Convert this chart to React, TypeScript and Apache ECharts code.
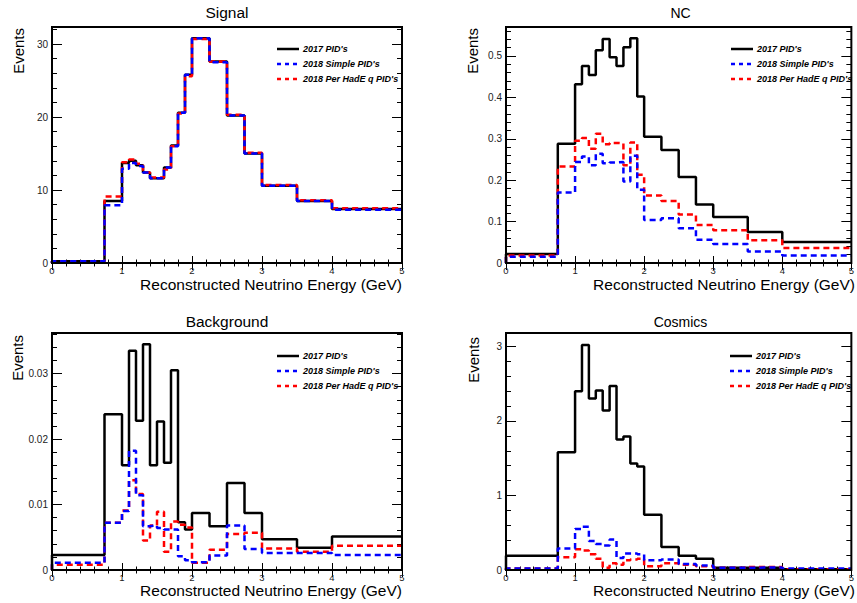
import React, { useEffect, useRef } from "react";
import * as echarts from "echarts";

// ---------- data ----------
const binEdges = [0, 0.75, 1, 1.1, 1.2, 1.3, 1.4, 1.5, 1.6, 1.7, 1.8, 1.9, 2, 2.25, 2.5, 2.75, 3, 3.5, 4, 5];

const seriesNames = ["2017 PID's", "2018 Simple PID's", "2018 Per HadE q PID's"];
const panelTitles = ["Signal", "NC", "Background", "Cosmics"];
const xAxisTitle = "Reconstructed Neutrino Energy (GeV)";
const yAxisTitle = "Events";

const signal2017 = [0.25, 8.5, 13.7, 14.0, 13.4, 12.4, 11.6, 11.6, 13.1, 16.1, 20.6, 25.8, 30.8, 27.6, 20.2, 15.0, 10.6, 8.5, 7.4];
const signalSimple = [0.25, 7.9, 12.9, 13.7, 13.3, 12.4, 11.6, 11.6, 13.1, 16.0, 20.6, 25.8, 30.8, 27.5, 20.2, 15.0, 10.6, 8.5, 7.3];
const signalPerHadE = [0.25, 9.1, 13.8, 14.2, 13.6, 12.4, 11.7, 11.7, 12.8, 16.0, 20.5, 25.6, 30.7, 27.6, 20.3, 15.1, 10.7, 8.6, 7.5];

const nc2017 = [0.022, 0.288, 0.432, 0.476, 0.454, 0.514, 0.541, 0.497, 0.476, 0.521, 0.543, 0.402, 0.305, 0.273, 0.208, 0.141, 0.111, 0.075, 0.051];
const ncSimple = [0.015, 0.17, 0.244, 0.257, 0.236, 0.264, 0.241, 0.243, 0.244, 0.197, 0.259, 0.177, 0.104, 0.108, 0.084, 0.056, 0.046, 0.028, 0.018];
const ncPerHadE = [0.018, 0.233, 0.295, 0.302, 0.276, 0.312, 0.287, 0.29, 0.289, 0.236, 0.291, 0.213, 0.163, 0.15, 0.117, 0.092, 0.079, 0.055, 0.036];

const bg2017 = [0.0023, 0.0238, 0.016, 0.0335, 0.0228, 0.0345, 0.016, 0.0227, 0.0164, 0.0305, 0.0073, 0.0062, 0.0087, 0.0067, 0.0133, 0.0087, 0.0047, 0.0034, 0.0051];
const bgSimple = [0.0011, 0.0072, 0.009, 0.0182, 0.0114, 0.0067, 0.0068, 0.0064, 0.0062, 0.0062, 0.0021, 0.0015, 0.0012, 0.0022, 0.0068, 0.0032, 0.0026, 0.0026, 0.0023];
const bgPerHadE = [0.0008, 0.0072, 0.0091, 0.0137, 0.0116, 0.0045, 0.0068, 0.0089, 0.0028, 0.0074, 0.0069, 0.0065, 0.0011, 0.0031, 0.0055, 0.0057, 0.0033, 0.0028, 0.0037];

const cos2017 = [0.19, 1.58, 2.4, 3.02, 2.3, 2.41, 2.14, 2.47, 1.75, 1.79, 1.43, 1.39, 0.74, 0.31, 0.19, 0.15, 0.03, 0.03, 0.01];
const cosSimple = [0.02, 0.29, 0.55, 0.58, 0.39, 0.35, 0.33, 0.41, 0.16, 0.22, 0.22, 0.21, 0.13, 0.14, 0.08, 0.06, 0.03, 0.035, 0.02];
const cosPerHadE = [0.02, 0.17, 0.28, 0.26, 0.21, 0.15, 0.03, 0.09, 0.07, 0.13, 0.14, 0.15, 0.05, 0.09, 0.07, 0.05, 0.03, 0.04, 0.01];

const panelData = [
  [signal2017, signalSimple, signalPerHadE],
  [nc2017, ncSimple, ncPerHadE],
  [bg2017, bgSimple, bgPerHadE],
  [cos2017, cosSimple, cosPerHadE],
];
const yMax = [32.34, 0.570, 0.0362, 3.18];
const yMajor = [10, 0.1, 0.01, 1];
const yMinor = [2, 0.02, 0.002, 0.2];

// ---------- layout / style ----------
const FONT = "'Liberation Sans', Arial, Helvetica, sans-serif";
const grids = [
  { left: 52, top: 27, width: 350, height: 236 },
  { left: 506, top: 27, width: 349, height: 236 },
  { left: 52, top: 333, width: 350, height: 237 },
  { left: 506, top: 333, width: 349, height: 237 },
];
const titleY = [12, 13, 321, 322];
const titleSize = [15.5, 14, 15.5, 14];
const legendPos = [
  { left: 277, top: 49 },
  { left: 731, top: 49 },
  { left: 277, top: 356 },
  { left: 730, top: 356 },
];
const legendRowGap = 15;
const xTitleY = [284, 284, 590, 590];
const yTitlePos = [
  { x: 18, y: 28 },
  { x: 472, y: 28 },
  { x: 17, y: 335 },
  { x: 473, y: 337 },
];
const colors = ["#000000", "#0000ff", "#ff0000"];
const zOrder = [2, 4, 3];

function stepPoints(values: number[]) {
  const pts: number[][] = [[binEdges[0], 0]];
  values.forEach((v, i) => {
    pts.push([binEdges[i], v], [binEdges[i + 1], v]);
  });
  return pts;
}

function buildOption() {
  const grid: any[] = [];
  const xAxis: any[] = [];
  const yAxis: any[] = [];
  const series: any[] = [];
  const graphic: any[] = [];
  const tickStyle = { color: "#000", width: 1 };

  for (let i = 0; i < 4; i++) {
    grid.push({ ...grids[i], show: true, borderColor: "#000", borderWidth: 2, backgroundColor: "transparent", containLabel: false, z: 10 });

    ["bottom", "top"].forEach((pos) => {
      xAxis.push({
        type: "value", gridIndex: i, position: pos, min: 0, max: 5, interval: 1,
        axisLine: { show: false },
        axisTick: { show: true, inside: true, length: 7, lineStyle: tickStyle },
        minorTick: { show: true, splitNumber: 5, length: 3.5, lineStyle: tickStyle },
        axisLabel: { show: pos === "bottom", fontSize: 9.5, color: "#222", margin: 2, fontFamily: FONT },
        splitLine: { show: false }, minorSplitLine: { show: false },
      });
    });

    ["left", "right"].forEach((pos) => {
      yAxis.push({
        type: "value", gridIndex: i, position: pos, min: 0, max: yMax[i], interval: yMajor[i],
        axisLine: { show: false },
        axisTick: { show: true, inside: true, length: 10, lineStyle: tickStyle },
        axisLabel: { show: pos === "left", fontSize: 10, color: "#222", margin: 4, fontFamily: FONT, showMaxLabel: false },
        splitLine: { show: false },
      });
      yAxis.push({
        type: "value", gridIndex: i, position: pos, min: 0, max: yMax[i], interval: yMinor[i],
        axisLine: { show: false },
        axisTick: { show: true, inside: true, length: 5, lineStyle: tickStyle },
        axisLabel: { show: false },
        splitLine: { show: false },
      });
    });

    panelData[i].forEach((vals, k) => {
      series.push({
        type: "line", name: seriesNames[k], xAxisIndex: 2 * i, yAxisIndex: 4 * i,
        data: stepPoints(vals), symbol: "none", showSymbol: false, silent: true, z: zOrder[k],
        lineStyle: { color: colors[k], width: 2.5, type: k === 0 ? "solid" : [6, 4] },
        itemStyle: { color: colors[k] },
      });
    });

    // legend drawn as graphic (line sample + label)
    seriesNames.forEach((name, k) => {
      const ly = legendPos[i].top + k * legendRowGap;
      graphic.push({
        type: "line", silent: true, z: 20,
        shape: { x1: legendPos[i].left, y1: ly, x2: legendPos[i].left + 22, y2: ly },
        style: { stroke: colors[k], lineWidth: 2.5, lineDash: k === 0 ? null : [4, 4] },
      });
      graphic.push({
        type: "text", x: legendPos[i].left + 26, y: ly, silent: true, z: 20,
        style: { text: name, fontSize: 9, fontStyle: "italic", fontWeight: "bold", fontFamily: FONT, fill: "#000", align: "left", verticalAlign: "middle" },
      });
    });

    const g = grids[i];
    graphic.push({
      type: "text", x: g.left + g.width / 2, y: titleY[i], silent: true,
      style: { text: panelTitles[i], fontSize: titleSize[i], fontFamily: FONT, fill: "#000", align: "center", verticalAlign: "middle" },
    });
    graphic.push({
      type: "text", x: g.left + g.width, y: xTitleY[i], silent: true,
      style: { text: xAxisTitle, fontSize: 15.5, fontFamily: FONT, fill: "#000", align: "right", verticalAlign: "middle" },
    });
    graphic.push({
      type: "text", x: yTitlePos[i].x, y: yTitlePos[i].y, rotation: Math.PI / 2, silent: true,
      style: { text: yAxisTitle, fontSize: 15, fontFamily: FONT, fill: "#000", align: "right", verticalAlign: "middle" },
    });
  }

  return { animation: false, backgroundColor: "#fff", grid, xAxis, yAxis, series, graphic };
}

export default function App() {
  const ref = useRef<HTMLDivElement>(null);
  useEffect(() => {
    if (!ref.current) return;
    const chart = echarts.init(ref.current, undefined, { renderer: "svg" });
    chart.setOption(buildOption() as any);
    return () => chart.dispose();
  }, []);
  return <div ref={ref} style={{ position: "absolute", left: 0, top: 0, width: 857, height: 603 }} />;
}
